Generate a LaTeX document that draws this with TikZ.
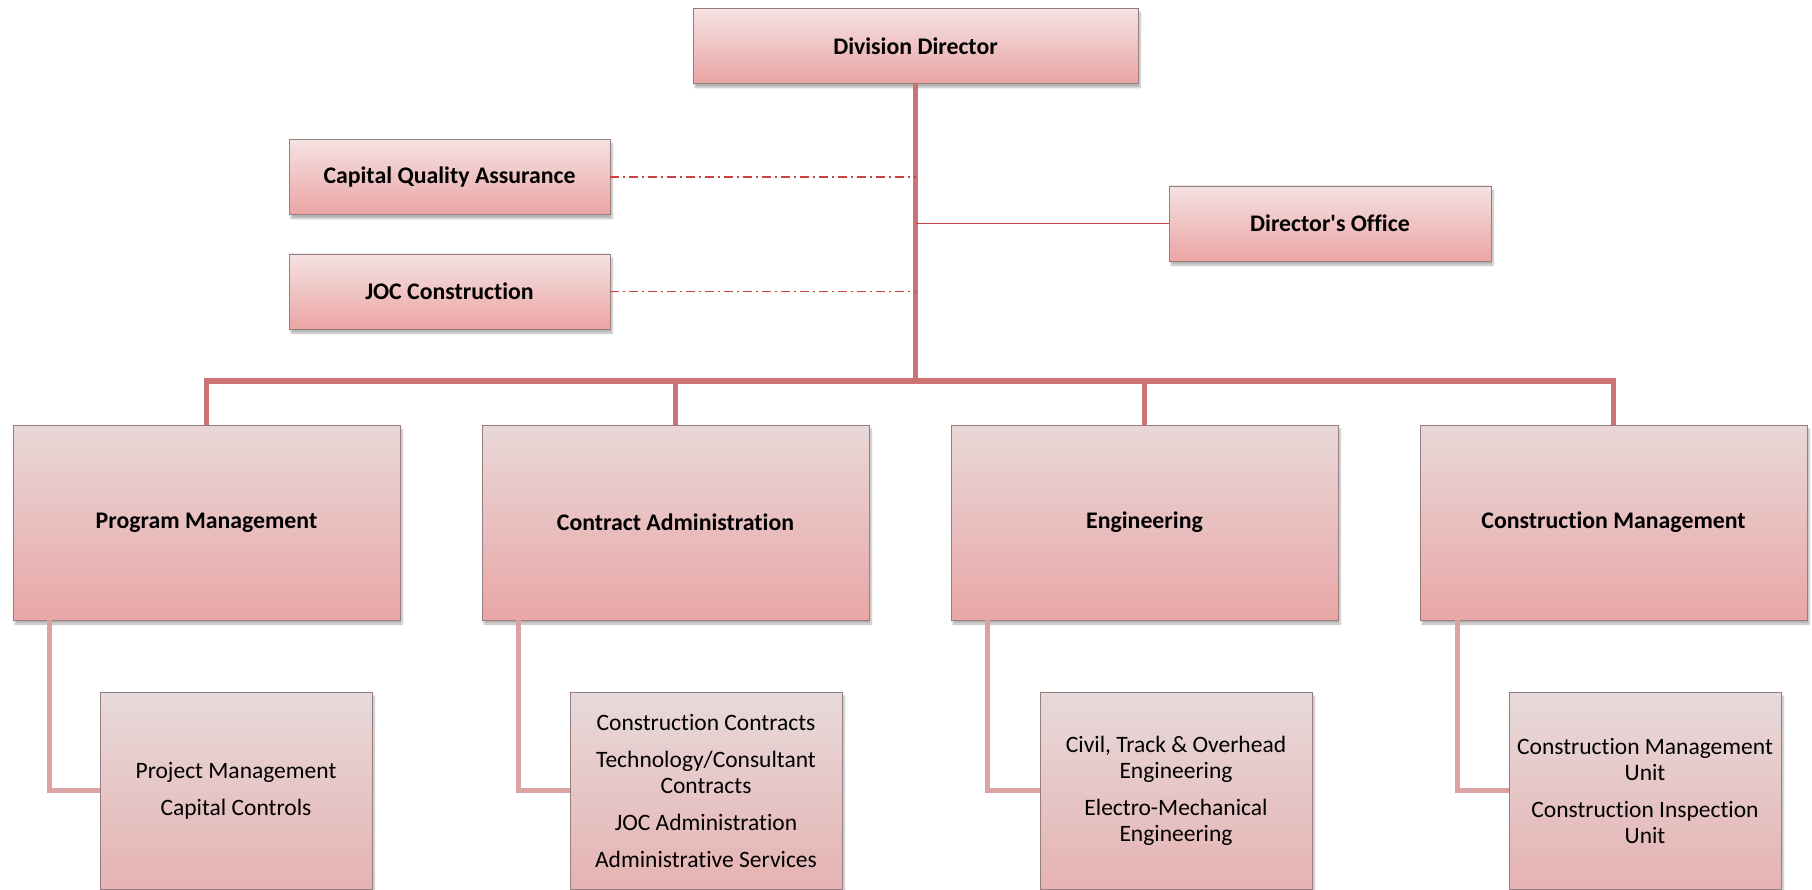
\documentclass[tikz,border=0pt]{standalone}
\usepackage{fontspec}
\defaultfontfeatures[\rmfamily]{}
\setmainfont{Carlito}[RawFeature={-liga;-clig;-calt}]
\usetikzlibrary{shadows.blur}

\definecolor{linkmain}{RGB}{204,114,114}
\definecolor{linksub}{RGB}{219,162,162}
\definecolor{linkred}{RGB}{200,64,64}
\definecolor{boxedge}{RGB}{150,126,126}
\definecolor{headtop}{RGB}{245,226,226}
\definecolor{headbot}{RGB}{235,164,164}
\definecolor{unittop}{RGB}{233,216,216}
\definecolor{unitbot}{RGB}{233,166,166}
\definecolor{subtop}{RGB}{231,218,218}
\definecolor{subbot}{RGB}{230,178,178}

\begin{document}
\begin{tikzpicture}[x=1pt,y=-1pt,
  box/.style={draw=boxedge, line width=0.8pt, inner sep=0pt, align=center,
    blur shadow={shadow xshift=2pt, shadow yshift=-4pt, shadow blur steps=6, shadow opacity=30}},
  headbox/.style={box, top color=headtop, bottom color=headbot,
    font=\fontsize{23.8}{26}\selectfont\bfseries, minimum height=75pt},
  unitbox/.style={box, top color=unittop, bottom color=unitbot,
    font=\fontsize{23.8}{26}\selectfont\bfseries, minimum width=387pt, minimum height=195pt},
  subbox/.style={box, top color=subtop, bottom color=subbot,
    font=\fontsize{23.5}{26}\selectfont, minimum width=272pt, minimum height=197pt},
  mainlink/.style={draw=linkmain, line width=5pt},
  sublink/.style={draw=linksub, line width=5pt},
  dotlink/.style={draw=linkred, line width=1.5pt, dash pattern=on 9pt off 4pt on 2pt off 4pt},
  redlink/.style={draw=linkred, line width=1.5pt}
]
\useasboundingbox (0,0) rectangle (1812,890);

% top level
\node[headbox, minimum width=445pt] (dd) at (915.5,46) {Division Director};
\node[headbox, minimum width=321pt] (cqa) at (449.5,177) {Capital Quality Assurance};
\node[headbox, minimum width=321pt] (joc) at (449.5,291.5) {JOC Construction};
\node[headbox, minimum width=322pt] (dof) at (1330,223.5) {Director's Office};

% second level
\node[unitbox] (pm) at (206.5,522.5) {Program Management};
\node[unitbox] (ca) at (675.5,522.5) {Contract Administration};
\node[unitbox] (en) at (1144.5,522.5) {Engineering};
\node[unitbox] (cm) at (1613.5,522.5) {Construction Management};

% third level
\node[subbox] (pms) at (236,790.5) {Project Management\\[11pt]Capital Controls};
\node[subbox] (cas) at (706,790.5) {Construction Contracts\\[11pt]Technology/Consultant\\Contracts\\[11pt]JOC Administration\\[11pt]Administrative Services};
\node[subbox] (ens) at (1176,790.5) {Civil, Track \& Overhead\\Engineering\\[11pt]Electro-Mechanical\\Engineering};
\node[subbox] (cms) at (1645,790.5) {Construction Management\\Unit\\[11pt]Construction Inspection\\Unit};

% trunk and bus
\coordinate (bus) at (915.5,381);
\draw[mainlink] (dd.south) -- (bus);
\draw[mainlink] (pm.north) -- (pm.north |- bus) -- (cm.north |- bus) -- (cm.north);
\draw[mainlink] (ca.north) -- (ca.north |- bus);
\draw[mainlink] (en.north) -- (en.north |- bus);

% staff links
\draw[dotlink] (cqa.east) -- (cqa.east -| dd.south);
\draw[dotlink] (joc.east) -- (joc.east -| dd.south);
\draw[redlink] (dof.west) -- (dof.west -| dd.south);

% sub-unit links
\draw[sublink] ([xshift=37pt]pm.south west) |- (pms.west);
\draw[sublink] ([xshift=37pt]ca.south west) |- (cas.west);
\draw[sublink] ([xshift=37pt]en.south west) |- (ens.west);
\draw[sublink] ([xshift=38pt]cm.south west) |- (cms.west);
\end{tikzpicture}
\end{document}
